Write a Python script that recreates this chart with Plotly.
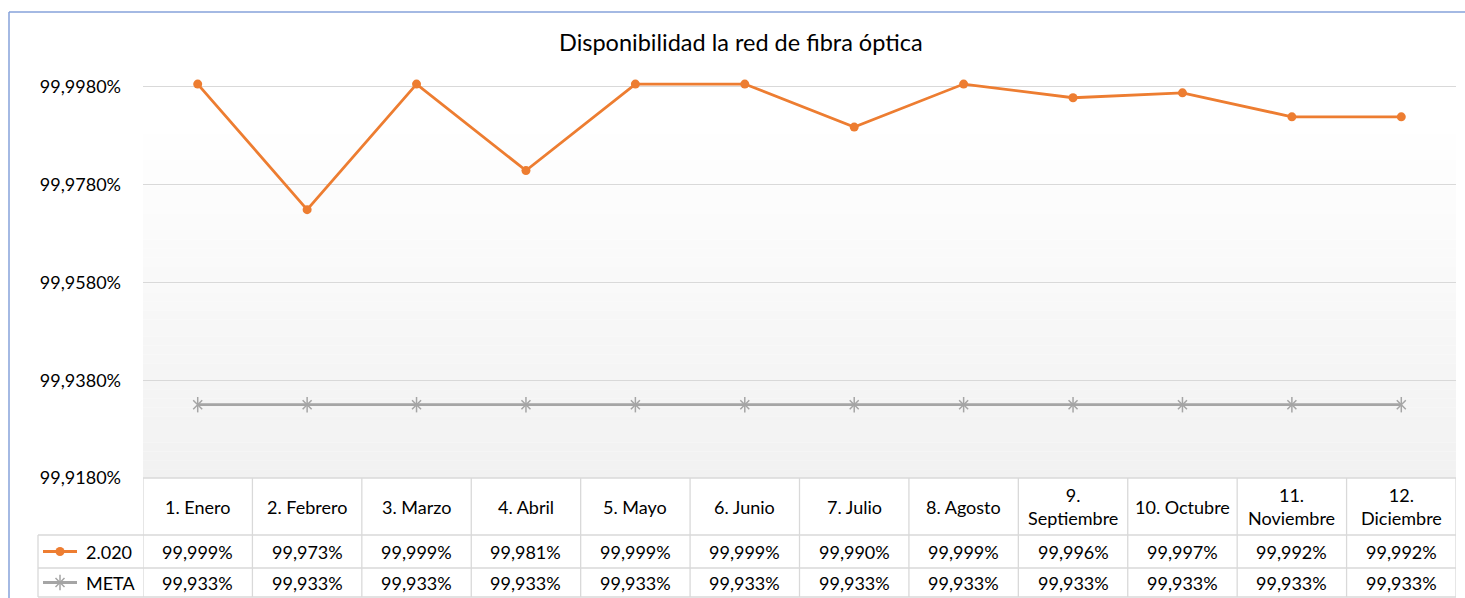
import plotly.graph_objects as go

# ---------------- data ----------------
categories = ["1. Enero", "2. Febrero", "3. Marzo", "4. Abril", "5. Mayo", "6. Junio",
              "7. Julio", "8. Agosto", "9.<br>Septiembre", "10. Octubre",
              "11.<br>Noviembre", "12.<br>Diciembre"]
serie_2020 = [99.9986, 99.9729, 99.9986, 99.9809, 99.9986, 99.9986,
              99.9898, 99.9986, 99.9958, 99.9968, 99.9919, 99.9919]
serie_meta = [99.933] * 12
series_names = ["2.020", "META"]
title_text = "Disponibilidad la red de fibra óptica"

# ---------------- geometry (page pixels) ----------------
W, H = 1465, 598
FONT = "Lato"
ORANGE = "#ED7D31"
GRAY = "#A5A5A5"
GRID = "#D9D9D9"
TXT = "#000000"
FS = 18

def px(x):
    return x / W

def py(y):
    return 1 - y / H

plot_l, plot_r = 143, 1456
plot_b = 478
y_min, y_max = 99.918, 99.9995
px_per_unit = (478 - 87) / 0.08
plot_t = plot_b - (y_max - y_min) * px_per_unit

legend_l = 38
row_header = (478, 535)
row1 = (535, 568)
row2 = (568, 597)

n = len(categories)
xs = list(range(n))

fig = go.Figure()

fig.add_trace(go.Scatter(
    x=xs, y=serie_2020, name=series_names[0], mode="lines+markers",
    line=dict(color=ORANGE, width=2.8),
    marker=dict(symbol="circle", size=9, color=ORANGE),
    cliponaxis=False, showlegend=False))
fig.add_trace(go.Scatter(
    x=xs, y=serie_meta, name=series_names[1], mode="lines+markers",
    line=dict(color=GRAY, width=2.8),
    marker=dict(symbol="x-thin-open", size=9, color=GRAY, line=dict(color=GRAY, width=1.5)),
    cliponaxis=False, showlegend=False))
fig.add_trace(go.Scatter(
    x=xs, y=serie_meta, name=series_names[1], mode="markers",
    marker=dict(symbol="line-ns-open", size=11, color=GRAY, line=dict(color=GRAY, width=1.5)),
    cliponaxis=False, showlegend=False, hoverinfo="skip"))

# legend keys in the data table (separate invisible axes)
yc1 = py(sum(row1) / 2)
yc2 = py(sum(row2) / 2)
fig.add_trace(go.Scatter(x=[0, 0.5, 1], y=[yc1] * 3, mode="lines", xaxis="x2", yaxis="y2",
                         line=dict(color=ORANGE, width=2.8), showlegend=False, hoverinfo="skip"))
fig.add_trace(go.Scatter(x=[0.5], y=[yc1], mode="markers", xaxis="x2", yaxis="y2",
                         marker=dict(symbol="circle", size=9, color=ORANGE),
                         showlegend=False, hoverinfo="skip"))
fig.add_trace(go.Scatter(x=[0, 0.5, 1], y=[yc2] * 3, mode="lines", xaxis="x2", yaxis="y2",
                         line=dict(color=GRAY, width=2.8), showlegend=False, hoverinfo="skip"))
fig.add_trace(go.Scatter(x=[0.5], y=[yc2], mode="markers", xaxis="x2", yaxis="y2",
                         marker=dict(symbol="x-thin-open", size=9, color=GRAY,
                                     line=dict(color=GRAY, width=1.5)),
                         showlegend=False, hoverinfo="skip"))
fig.add_trace(go.Scatter(x=[0.5], y=[yc2], mode="markers", xaxis="x2", yaxis="y2",
                         marker=dict(symbol="line-ns-open", size=11, color=GRAY,
                                     line=dict(color=GRAY, width=1.5)),
                         showlegend=False, hoverinfo="skip"))

shapes = []
# gradient plot background
g_top, g_bot = 125, plot_b
steps = 40
for i in range(steps):
    y0 = g_top + (g_bot - g_top) * i / steps
    y1 = g_top + (g_bot - g_top) * (i + 1) / steps
    t = (i + 0.5) / steps
    c = round(255 - (255 - 241) * t)
    shapes.append(dict(type="rect", xref="paper", yref="paper",
                       x0=px(plot_l), x1=px(plot_r), y0=py(y1), y1=py(y0),
                       fillcolor=f"rgb({c},{c},{c})", line=dict(width=0), layer="below"))

# outer chart border (blue)
shapes.append(dict(type="line", xref="paper", yref="paper", x0=px(9), x1=1.0,
                   y0=py(12), y1=py(12), line=dict(color="#86A2DA", width=1.5)))
shapes.append(dict(type="line", xref="paper", yref="paper", x0=px(9), x1=px(9),
                   y0=py(12), y1=0, line=dict(color="#86A2DA", width=1.5)))

# table lines
for yline, x0 in [(row_header[0], plot_l), (row1[0], legend_l), (row2[0], legend_l), (row2[1], legend_l)]:
    shapes.append(dict(type="line", xref="paper", yref="paper", x0=px(x0), x1=px(plot_r),
                       y0=py(yline), y1=py(yline), line=dict(color=GRID, width=1.3)))
for i in range(n + 1):
    shapes.append(dict(type="line", xref="x", yref="paper", x0=i - 0.5, x1=i - 0.5,
                       y0=py(row_header[0]), y1=py(row2[1]), line=dict(color=GRID, width=1.3)))
shapes.append(dict(type="line", xref="paper", yref="paper", x0=px(legend_l), x1=px(legend_l),
                   y0=py(row1[0]), y1=py(row2[1]), line=dict(color=GRID, width=1.3)))

annotations = []
annotations.append(dict(text=title_text, xref="paper", yref="paper", x=px(741), y=py(42),
                        xanchor="center", yanchor="middle",
                        showarrow=False, font=dict(family=FONT, size=23.5, color=TXT)))

def fmt(v):
    return f"{v:.3f}".replace(".", ",") + "%"

def cell(text, i, rows):
    return dict(text=text, xref="x", yref="paper", x=i, y=py(sum(rows) / 2),
                xanchor="center", yanchor="middle", showarrow=False,
                font=dict(family=FONT, size=FS, color=TXT))

for i, cat in enumerate(categories):
    annotations.append(cell(cat, i, row_header))
    annotations.append(cell(fmt(serie_2020[i]), i, row1))
    annotations.append(cell(fmt(serie_meta[i]), i, row2))
for name, (ra, rb) in zip(series_names, [row1, row2]):
    annotations.append(dict(text=name, xref="paper", yref="paper", x=px(84), y=py((ra + rb) / 2),
                            xanchor="left", yanchor="middle", showarrow=False,
                            font=dict(family=FONT, size=FS, color=TXT)))

fig.update_layout(
    width=W, height=H, margin=dict(l=0, r=0, t=0, b=0, autoexpand=False), autosize=False,
    paper_bgcolor="white", plot_bgcolor="rgba(0,0,0,0)",
    separators=",.",
    showlegend=False,
    xaxis=dict(domain=[px(plot_l), px(plot_r)], range=[-0.5, n - 0.5], showticklabels=False,
               showgrid=False, zeroline=False, ticks="", fixedrange=True, automargin=False),
    yaxis=dict(domain=[py(plot_b), py(plot_t)], range=[y_min, y_max], tick0=y_min, dtick=0.02,
               tickformat=".4f", ticksuffix="%", showgrid=True, gridcolor=GRID, gridwidth=1.3,
               zeroline=False, ticks="", ticklabelstandoff=21, automargin=False,
               tickfont=dict(family=FONT, size=FS, color=TXT)),
    xaxis2=dict(domain=[px(43), px(77)], range=[0, 1], visible=False, anchor="y2"),
    yaxis2=dict(domain=[0, 1], range=[0, 1], visible=False, anchor="x2"),
    shapes=shapes, annotations=annotations,
)

fig.write_html(
    "out.html",
    config={"responsive": False, "displayModeBar": False},
    post_script="document.body.style.margin='0px';document.body.style.overflow='hidden';",
)
